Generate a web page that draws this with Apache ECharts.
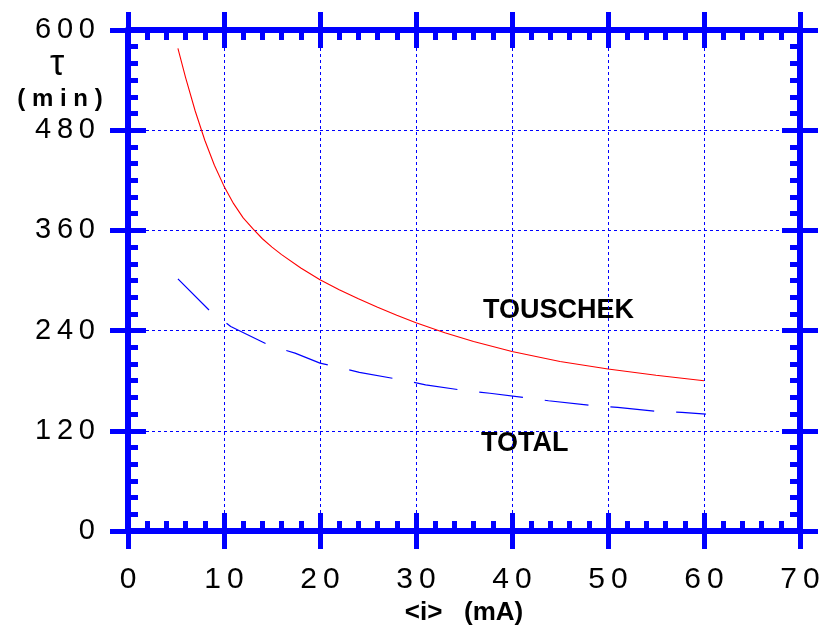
<!DOCTYPE html>
<html><head><meta charset="utf-8">
<script src="https://cdn.jsdelivr.net/npm/echarts@6/dist/echarts.min.js"></script>
<style>html,body{margin:0;padding:0;background:#fff}#c{width:827px;height:625px}</style>
</head><body><div id="c"></div>
<script>
// Touschek lifetime vs average current
const touschekI   = [5.2, 6, 7, 8, 9, 10, 11, 12, 13, 14, 15, 16, 18, 20, 22, 24, 26, 28, 30, 33, 36, 40, 45, 50, 55, 60];
const touschekTau = [578, 543, 503, 468, 438, 413, 392, 375, 362, 350, 340, 331, 315, 301, 289, 278, 268, 258.5, 249.5, 237.5, 227, 215, 203, 194, 186.5, 180];
// Total lifetime vs average current
const totalI   = [5.2, 8.5, 10.7, 14.8, 17.4, 20, 22, 24.1, 28.5, 31, 35.2, 37.7, 41.9, 43.8, 48.5, 51, 55.3, 57.7, 60.2];
const totalTau = [302, 264, 245, 222, 213, 201, 196, 190, 181, 175, 168, 165, 159, 156, 150, 148, 143, 142, 140];

const xMin = 0, xMax = 70, xStep = 10;
const yMin = 0, yMax = 600, yStep = 120;
const xTitle = '<i>   (mA)';
const yTitleSymbol = 'τ';
const yTitleUnit = '( m i n )';
const seriesNames = ['TOUSCHEK', 'TOTAL'];

const BLUE = '#0000ff';
const FONT = '"Liberation Sans", Arial, Helvetica, sans-serif';
const spaced = v => String(v).split('').join('\u2009');

function axis(kind, pos, inside, main) {
  const isX = kind === 'x';
  const a = {
    type: 'value', position: pos,
    min: isX ? xMin : yMin, max: isX ? xMax : yMax, interval: isX ? xStep : yStep,
    axisLine: { show: true, onZero: false, lineStyle: { color: BLUE, width: 6 } },
    axisTick: { show: true, inside: inside, length: 18, lineStyle: { color: BLUE, width: 5 } },
    minorTick: { show: inside, splitNumber: isX ? 5 : 6, length: 10, lineStyle: { color: BLUE, width: 5 } },
    axisLabel: { show: main, color: '#000', fontFamily: FONT, fontSize: isX ? 30 : 29,
                 margin: isX ? 34 : 33, formatter: spaced },
    splitLine: { show: main, lineStyle: { color: BLUE, width: 1, type: [3, 3] } },
    minorSplitLine: { show: false }
  };
  if (main && isX) {
    a.name = xTitle;
    a.nameLocation = 'middle';
    a.nameGap = 64;
    a.nameTextStyle = { color: '#000', fontFamily: FONT, fontWeight: 'bold', fontSize: 26 };
  }
  return a;
}

const chart = echarts.init(document.getElementById('c'), null, { renderer: 'canvas' });
chart.setOption({
  animation: false,
  backgroundColor: '#fff',
  grid: { left: 128, right: 27, top: 30, bottom: 94, containLabel: false, outerBoundsMode: 'none' },
  xAxis: [axis('x', 'bottom', false, true), axis('x', 'bottom', true, false),
          axis('x', 'top', false, false), axis('x', 'top', true, false)],
  yAxis: [axis('y', 'left', false, true), axis('y', 'left', true, false),
          axis('y', 'right', false, false), axis('y', 'right', true, false)],
  series: [
    { name: seriesNames[0], type: 'line', xAxisIndex: 0, yAxisIndex: 0,
      data: touschekI.map((x, i) => [x, touschekTau[i]]),
      showSymbol: false,
      lineStyle: { color: '#ff0000', width: 1.1 } },
    { name: seriesNames[1], type: 'line', xAxisIndex: 0, yAxisIndex: 0,
      data: totalI.map((x, i) => [x, totalTau[i]]),
      showSymbol: false,
      lineStyle: { color: BLUE, width: 1.2, type: [44, 22] } }
  ],
  graphic: [
    { type: 'text', x: 57, y: 65, style: { text: yTitleSymbol, font: '36px ' + FONT, fill: '#000', align: 'center', verticalAlign: 'middle' } },
    { type: 'text', x: 60, y: 99, style: { text: yTitleUnit, font: 'bold 24px ' + FONT, fill: '#000', align: 'center', verticalAlign: 'middle' } },
    { type: 'text', x: 483, y: 311, style: { text: seriesNames[0], font: 'bold 27px ' + FONT, fill: '#000', align: 'left', verticalAlign: 'middle' } },
    { type: 'text', x: 481, y: 444, style: { text: seriesNames[1], font: 'bold 27px ' + FONT, fill: '#000', align: 'left', verticalAlign: 'middle' } }
  ]
});
</script>
</body></html>
